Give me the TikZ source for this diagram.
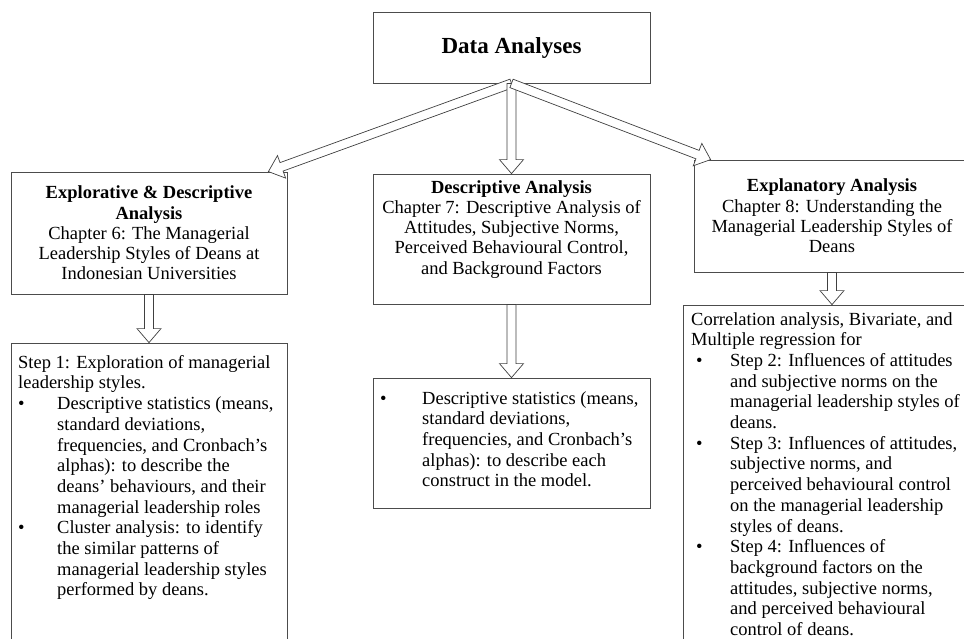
\documentclass[tikz,border=0pt]{standalone}
\usepackage{fontspec}
\setmainfont{Liberation Serif}
\usetikzlibrary{calc}

% hollow block arrow from #1 to #2 (tip at #2)
\newcommand\blockarrow[2]{%
  \coordinate (bah) at ($(#2)!14pt!(#1)$);
  \draw[hollowarrow]
    ($(#1)!4.5pt!90:(#2)$) -- ($(bah)!4.5pt!90:(#2)$) -- ($(bah)!12pt!90:(#2)$)
    -- (#2)
    -- ($(bah)!12pt!-90:(#2)$) -- ($(bah)!4.5pt!-90:(#2)$) -- ($(#1)!4.5pt!-90:(#2)$)
    -- cycle;}
\newcommand\bul[1]{\makebox[#1][l]{\textbullet}}
\newcommand\ind[1]{\hspace*{#1}}

\begin{document}
\begin{tikzpicture}[x=1pt,y=-1pt,
  frame/.style={draw=black!70, line width=0.8pt, rectangle, inner sep=0pt},
  body/.style={font=\fontsize{18.5pt}{20.3pt}\selectfont, inner sep=0pt},
  listbody/.style={font=\fontsize{18.5pt}{20.7pt}\selectfont, inner sep=0pt,
                   align=left, anchor=north west},
  hollowarrow/.style={draw=black!75, line width=0.7pt, fill=white, line join=miter}]
\useasboundingbox (0,0) rectangle (964,638);
\clip (0,0) rectangle (964,638);

% boxes
\node[frame, minimum width=277pt, minimum height=71pt,
      font=\fontsize{23pt}{25pt}\selectfont\bfseries] (da) at (511.5,47.5) {Data Analyses};
\node[frame, minimum width=276pt, minimum height=122pt] (explo) at (149,233) {};
\node[frame, minimum width=277pt, minimum height=130pt] (desc) at (511.5,239) {};
\node[frame, minimum width=276pt, minimum height=112pt] (expl) at (832,216) {};
\node[frame, minimum width=276pt, minimum height=357pt] (stepone) at (149,521.5) {};
\node[frame, minimum width=277pt, minimum height=130pt] (stats) at (511.5,443) {};
\node[frame, minimum width=292pt, minimum height=395pt] (regr) at (829,502.5) {};

% headings
\node[body, align=center] (explotxt) at (explo.center)
  {\textbf{Explorative \& Descriptive}\\ \textbf{Analysis}\\ Chapter 6: The Managerial\\
   Leadership Styles of Deans at\\ Indonesian Universities};
\node[body, align=center, anchor=north] (desctxt) at (511.5,180)
  {\textbf{Descriptive Analysis}\\ Chapter 7: Descriptive Analysis of\\
   Attitudes, Subjective Norms,\\ Perceived Behavioural Control,\\ and Background Factors};
\node[body, align=center] (expltxt) at (expl.center)
  {\textbf{Explanatory Analysis}\\ Chapter 8: Understanding the\\
   Managerial Leadership Styles of\\ Deans};

% methods
\node[listbody] (steponetxt) at (18,355)
  {Step 1: Exploration of managerial\\ leadership styles.\\
   \bul{39pt}Descriptive statistics (means,\\ \ind{39pt}standard deviations,\\
   \ind{39pt}frequencies, and Cronbach’s\\ \ind{39pt}alphas): to describe the\\
   \ind{39pt}deans’ behaviours, and their\\ \ind{39pt}managerial leadership roles\\
   \bul{39pt}Cluster analysis: to identify\\ \ind{39pt}the similar patterns of\\
   \ind{39pt}managerial leadership styles\\ \ind{39pt}performed by deans.};
\node[listbody] (statstxt) at (380,391)
  {\bul{42pt}Descriptive statistics (means,\\ \ind{42pt}standard deviations,\\
   \ind{42pt}frequencies, and Cronbach’s\\ \ind{42pt}alphas): to describe each\\
   \ind{42pt}construct in the model.};
\node[listbody] (regrtxt) at (691,312)
  {Correlation analysis, Bivariate, and\\ Multiple regression for\\
   \ind{5pt}\bul{34pt}Step 2: Influences of attitudes\\ \ind{39pt}and subjective norms on the\\
   \ind{39pt}managerial leadership styles of\\ \ind{39pt}deans.\\
   \ind{5pt}\bul{34pt}Step 3: Influences of attitudes,\\ \ind{39pt}subjective norms, and\\
   \ind{39pt}perceived behavioural control\\ \ind{39pt}on the managerial leadership\\
   \ind{39pt}styles of deans.\\
   \ind{5pt}\bul{34pt}Step 4: Influences of\\ \ind{39pt}background factors on the\\
   \ind{39pt}attitudes, subjective norms,\\ \ind{39pt}and perceived behavioural\\
   \ind{39pt}control of deans.};

% connectors
\coordinate (lefttip) at ($(explo.north east)+(-19,0)$);
\coordinate (righttip) at ($(expl.north west)+(17,0)$);
\coordinate (regrtop) at (expl.south |- regr.north);
\blockarrow{da.south}{lefttip}
\blockarrow{da.south}{desc.north}
\blockarrow{da.south}{righttip}
\blockarrow{explo.south}{stepone.north}
\blockarrow{desc.south}{stats.north}
\blockarrow{expl.south}{regrtop}
\end{tikzpicture}
\end{document}
